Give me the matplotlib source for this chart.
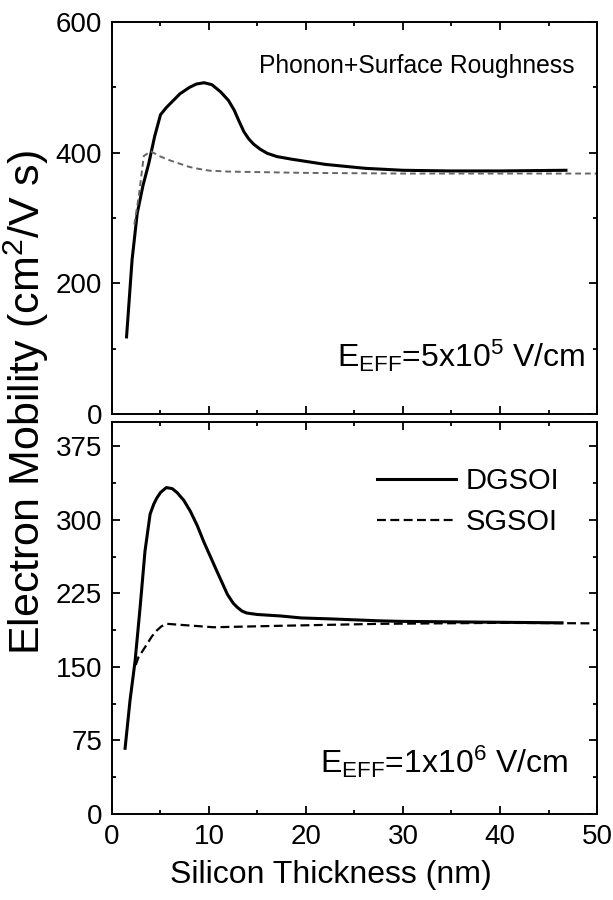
import matplotlib
matplotlib.use("Agg")
from matplotlib import pyplot as plt
from matplotlib.ticker import MultipleLocator

plt.rcParams['font.family'] = ['Liberation Sans', 'DejaVu Sans']
plt.rcParams['mathtext.fontset'] = 'custom'
plt.rcParams['mathtext.rm'] = 'Liberation Sans'
plt.rcParams['mathtext.it'] = 'Liberation Sans'

# top panel, E_eff = 5e5 V/cm
t_dg_x = [1.5, 2.07, 2.6, 3.2, 3.8, 4.4, 5.0, 5.6, 6.2, 7.0, 8.0, 8.7, 9.5, 10.3, 11.2,
          12.0, 12.6, 13.1, 13.6, 14.1, 14.6, 15.3, 16.0, 17.0, 18.5, 22.0, 26.1,
          30.0, 34.7, 40.0, 46.8]
t_dg_y = [118, 236, 307, 350, 384, 425, 458, 469, 478, 490, 500, 505, 507, 504, 493,
          480, 465, 448, 432, 421, 413, 405, 399, 394, 390, 382, 376,
          373, 372, 372, 373]
t_sg_x = [2.3, 2.76, 3.28, 4.0, 5.0, 6.0, 7.0, 8.0, 9.0, 10.0, 12.0, 20.0, 30.0, 40.0, 50.0]
t_sg_y = [290, 333, 395, 402, 394, 388, 383, 378, 375, 372.5, 371, 369, 368, 368, 368]

# bottom panel, E_eff = 1e6 V/cm
b_dg_x = [1.35, 1.86, 2.38, 2.9, 3.4, 3.93, 4.3, 4.6, 5.0, 5.6, 6.2, 6.7, 7.4, 8.07,
          8.8, 9.45, 10.8, 11.9, 12.5, 12.9, 13.4, 13.9, 15.0, 17.4, 19.5, 22.6,
          27.7, 29.8, 46.4]
b_dg_y = [67, 116, 156, 211, 268, 306, 316, 322, 328, 333, 332, 328, 320, 309,
          294, 278, 248, 224, 215, 211, 207, 205, 203.5, 202, 200, 199,
          197, 196.5, 195]
b_sg_x = [2.45, 2.73, 3.2, 3.59, 4.1, 4.6, 5.1, 5.66, 7.0, 10.5, 17.4, 27.7, 40.0, 49.4]
b_sg_y = [152, 160, 167, 173, 181, 187, 191.5, 194, 193, 190.5, 192, 194, 195, 194.5]

fig = plt.figure(figsize=(6.13, 9), dpi=100)
ax1 = fig.add_axes([0.1827, 0.54, 0.7912, 0.4356])
ax2 = fig.add_axes([0.1827, 0.0956, 0.7912, 0.4356])

ax1.plot(t_dg_x, t_dg_y, color='black', lw=2.2)
ax1.plot(t_sg_x, t_sg_y, color='#666666', lw=1.4, linestyle=(0, (3, 2)))

ax2.plot(b_dg_x, b_dg_y, color='black', lw=2.2, label='DGSOI')
ax2.plot(b_sg_x, b_sg_y, color='black', lw=1.6, linestyle=(0, (4, 2)), label='SGSOI')

for ax in (ax1, ax2):
    ax.set_xlim(0, 50)
    ax.xaxis.set_major_locator(MultipleLocator(10))
    ax.xaxis.set_minor_locator(MultipleLocator(5))
    ax.tick_params(which='both', direction='in', top=True, right=True, width=1.3)
    ax.tick_params(which='major', length=6, labelsize=20, pad=7)
    ax.tick_params(which='minor', length=3)
    for s in ax.spines.values():
        s.set_linewidth(1.4)

ax1.set_ylim(0, 600)
ax1.yaxis.set_major_locator(MultipleLocator(200))
ax1.yaxis.set_minor_locator(MultipleLocator(100))
ax1.tick_params(labelbottom=False)

ax2.set_ylim(0, 400)
ax2.set_yticks([0, 75, 150, 225, 300, 375])
ax2.yaxis.set_minor_locator(MultipleLocator(37.5))

ax1.text(0.303, 0.87, 'Phonon+Surface Roughness', transform=ax1.transAxes,
         fontsize=17.7, ha='left', va='baseline')
ax1.text(0.975, 0.12, r'E$_\mathregular{EFF}$=5x10$^\mathregular{5}$ V/cm',
         transform=ax1.transAxes, fontsize=23, ha='right', va='baseline')
ax2.text(0.94, 0.105, r'E$_\mathregular{EFF}$=1x10$^\mathregular{6}$ V/cm',
         transform=ax2.transAxes, fontsize=23, ha='right', va='baseline')

ax2.legend(loc='upper left', bbox_to_anchor=(0.546, 0.885), frameon=False,
           fontsize=21, handlelength=2.7, handletextpad=0.35, labelspacing=0.45,
           borderpad=0, borderaxespad=0)

ax2.set_xlabel('Silicon Thickness (nm)', fontsize=23)
ax2.xaxis.set_label_coords(0.4515, -0.118)

fig.text(0.043, 0.553, 'Electron Mobility (cm$^\\mathregular{2}$/V s)', rotation=90,
         fontsize=31, ha='center', va='center')

fig.savefig('out.png', dpi=100)
